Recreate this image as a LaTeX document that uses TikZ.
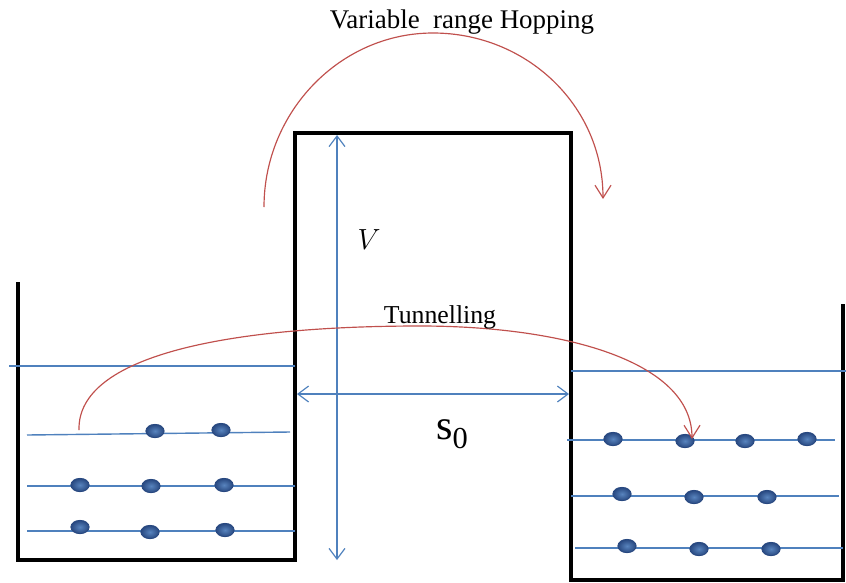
\documentclass[tikz,border=0pt]{standalone}
\usepackage{fontspec}
\setmainfont{Liberation Serif}
\usetikzlibrary{arrows.meta,shapes.geometric}
\definecolor{levelblue}{RGB}{79,129,189}
\definecolor{hopred}{RGB}{192,80,77}
\definecolor{dotdark}{RGB}{40,72,128}
\definecolor{dotlight}{RGB}{88,132,190}

\begin{document}
\begin{tikzpicture}[x=0.03cm,y=-0.03cm,every node/.style={outer sep=0pt}]

	\tikzstyle{wall}=[line width=4pt,line join=miter]
	\tikzstyle{level}=[levelblue,line width=1.2pt]
	\tikzstyle{electron}=[ellipse,draw=dotdark,line width=0.7pt,inner color=dotlight,outer color=dotdark,minimum width=0.55cm,minimum height=0.4cm,inner sep=0pt]
	\tikzstyle{dim}=[levelblue,line width=1pt,{Straight Barb[length=0.32cm,width=0.48cm]}-{Straight Barb[length=0.32cm,width=0.48cm]}]
	\tikzstyle{hop}=[hopred,line width=1pt,-{Straight Barb[length=0.38cm,width=0.48cm]}]

	\useasboundingbox (0,0) rectangle (846,582);

	% wells and barrier
	\draw [wall] (18,282) -- (18,560) -- (295,560) -- (295,133) -- (571,133) -- (571,580) -- (843,580) -- (843,304);

	% energy levels, left well
	\draw [level] (9,366) -- (295,366);
	\draw [level] (27,435) -- (290,432);
	\draw [level] (27,486) -- (295,486);
	\draw [level] (27,531) -- (295,531);
	% energy levels, right well
	\draw [level] (571,371) -- (846,371);
	\draw [level] (567,440) -- (835,440);
	\draw [level] (571,496) -- (839,496);
	\draw [level] (575,548) -- (843,548);

	% electrons
	\node (l1a) at (155,431) [electron] {};
	\node (l1b) at (221,430) [electron] {};
	\node (l2a) at (80,485) [electron] {};
	\node (l2b) at (151,486) [electron] {};
	\node (l2c) at (224,485) [electron] {};
	\node (l3a) at (80,527) [electron] {};
	\node (l3b) at (150,532) [electron] {};
	\node (l3c) at (225,530) [electron] {};

	\node (r1a) at (613,439) [electron] {};
	\node (r1b) at (685,441) [electron] {};
	\node (r1c) at (745,441) [electron] {};
	\node (r1d) at (807,439) [electron] {};
	\node (r2a) at (622,494) [electron] {};
	\node (r2b) at (694,497) [electron] {};
	\node (r2c) at (767,497) [electron] {};
	\node (r3a) at (627,546) [electron] {};
	\node (r3b) at (699,549) [electron] {};
	\node (r3c) at (771,549) [electron] {};

	% barrier height and width
	\coordinate (vtop) at (337,135);
	\coordinate (vbot) at (337,560);
	\coordinate (sleft) at (297,394);
	\coordinate (sright) at (569,394);
	\draw [dim] (vtop) -- (vbot);
	\draw [dim] (sleft) -- (sright);
	\node (vlabel) at (369,240) {\fontsize{26}{28}\selectfont $V$};
	\node (slabel) at (452,434) {\fontsize{36}{38}\selectfont s\raisebox{-0.22em}{\fontsize{26}{28}\selectfont 0}};

	% hopping over the barrier
	\coordinate (hopstart) at (264,207);
	\coordinate (hopend) at (603,199);
	\draw [hop] (hopstart) .. controls (264,112) and (340,33) .. (433,33) .. controls (526,33) and (603,105) .. (hopend);
	\node (hoplabel) at (462,22) {\fontsize{23}{26}\selectfont Variable\ \ range Hopping};

	% tunnelling through the barrier
	\coordinate (tunstart) at (79,430);
	\coordinate (tunend) at (692,439);
	\draw [hop] (tunstart) .. controls (77,355) and (230,326) .. (420,326) .. controls (560,326) and (692,360) .. (tunend);
	\node (tunlabel) at (440,317) {\fontsize{22}{24}\selectfont Tunnelling};

\end{tikzpicture}
\end{document}
